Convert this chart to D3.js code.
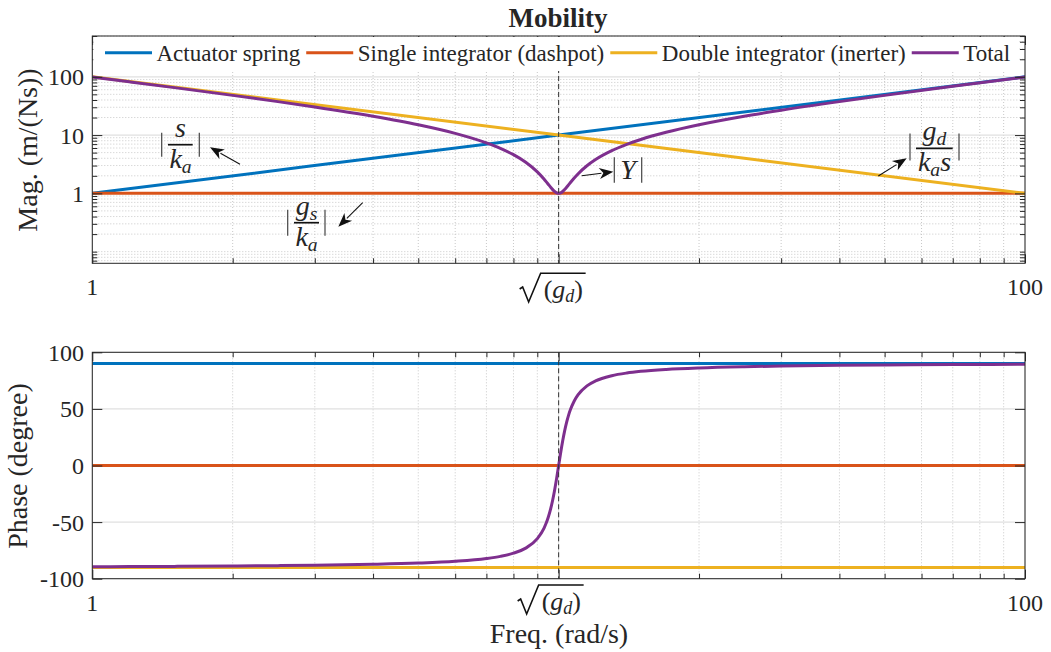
<!DOCTYPE html>
<html>
<head>
<meta charset="utf-8">
<script src="https://cdn.jsdelivr.net/npm/d3@7"></script>
<style>
  html, body { margin: 0; padding: 0; background: #fff; }
  svg { display: block; }
  text { font-family: "Liberation Serif", "Times New Roman", serif; fill: #262626; }
</style>
</head>
<body>
<script>
// ---------------- DATA ----------------
const seriesNames = ["Actuator spring", "Single integrator (dashpot)", "Double integrator (inerter)", "Total"];
const seriesColors = ["#0072BD", "#D95319", "#EDB120", "#7E2F8E"];

// straight-line components (read at 1, sqrt(gd)=10, 100 rad/s)
const lineFreq     = [1, 10, 100];
const springMag    = [1, 10, 100];
const dashpotMag   = [1, 1, 1];
const inerterMag   = [100, 10, 1];
const springPhase  = [90, 90, 90];
const dashpotPhase = [0, 0, 0];
const inerterPhase = [-90, -90, -90];

// total mobility
const totalFreq  = [1, 1.2, 1.5, 2, 2.5, 3, 4, 5, 6, 7, 7.5, 8, 8.5, 9, 9.3, 9.4, 9.5, 9.6, 9.7, 9.8, 9.9, 10,
                    10.1, 10.2, 10.3, 10.4, 10.5, 10.6, 10.8, 11, 11.5, 12, 13, 14, 15, 17, 20, 25, 30, 40, 50, 70, 100];
const totalMag   = [99.0, 82.14, 65.17, 48.01, 37.51, 30.35, 21.02, 15.03, 10.71, 7.354, 5.918, 4.61, 3.415, 2.336, 1.764, 1.592, 1.433, 1.291, 1.171, 1.079, 1.020, 1.0,
                    1.020, 1.076, 1.162, 1.271, 1.397, 1.536, 1.837, 2.155, 2.977, 3.801, 5.401, 6.930, 8.393, 11.16, 15.03, 21.02, 26.69, 37.51, 48.01, 68.58, 99.0];
const totalPhase = [-89.42, -89.30, -89.12, -88.81, -88.47, -88.11, -87.27, -86.19, -84.64, -82.19, -80.27, -77.47, -72.97, -64.62, -55.46, -51.07, -45.74, -39.25, -31.34, -22.0, -11.37, 0,
                    11.26, 21.6, 30.58, 38.13, 44.31, 49.39, 57.02, 62.35, 70.37, 74.74, 79.33, 81.70, 83.16, 84.86, 86.19, 87.27, 87.85, 88.47, 88.81, 89.16, 89.42];

// ticks
const freqTicks   = [1, 10, 100];
const freqLabels  = ["1", "sqrt", "100"];
const magTicks    = [1, 10, 100];
const magLabels   = ["1", "10", "100"];
const phaseTicks  = [-100, -50, 0, 50, 100];
const phaseLabels = ["-100", "-50", "0", "50", "100"];

// ---------------- LAYOUT ----------------
const W = 1051, H = 652;
const L = 92.3, R = 1025;
const T1 = 36, B1 = 263.3, T2 = 352.3, B2 = 578.7;
const axisColor = "#262626";

const svg = d3.select("body").append("svg").attr("width", W).attr("height", H);

const x = d3.scaleLog().domain([1, 100]).range([L, R]);
const yMag = d3.scaleLog().domain([Math.pow(10, -1.2), Math.pow(10, 2.7)]).range([B1, T1]);
const yPh = d3.scaleLinear().domain([-100, 100]).range([B2, T2]);

// minor tick positions
const xMinor = [];
[1, 10].forEach(d => { for (let k = 2; k <= 9; k++) xMinor.push(d * k); });
const yMagMinor = [];
[0.01, 0.1, 1, 10, 100].forEach(d => { for (let k = 1; k <= 9; k++) { const v = d * k; if (v >= yMag.domain()[0] && v <= yMag.domain()[1] && Math.abs(v - 1) > 1e-9 && Math.abs(v - 10) > 1e-9 && Math.abs(v - 100) > 1e-9) yMagMinor.push(v); } });

const defs = svg.append("defs");
defs.append("clipPath").attr("id", "c1").append("rect").attr("x", L).attr("y", T1).attr("width", R - L).attr("height", B1 - T1);
defs.append("clipPath").attr("id", "c2").append("rect").attr("x", L).attr("y", T2).attr("width", R - L).attr("height", B2 - T2);

function panel(yScale, top, bottom, yMajor, yMinorVals) {
  const g = svg.append("g");
  const grid = g.append("g");
  grid.selectAll(".vx").data(xMinor).join("line")
    .attr("x1", d => x(d)).attr("x2", d => x(d)).attr("y1", top).attr("y2", bottom)
    .attr("stroke", "#c8c8c8").attr("stroke-width", 1).attr("stroke-dasharray", "1,2");
  grid.selectAll(".hy").data(yMinorVals).join("line")
    .attr("x1", L).attr("x2", R).attr("y1", d => yScale(d)).attr("y2", d => yScale(d))
    .attr("stroke", "#c8c8c8").attr("stroke-width", 1).attr("stroke-dasharray", "1,2");
  grid.selectAll(".mx").data(freqTicks).join("line")
    .attr("x1", d => x(d)).attr("x2", d => x(d)).attr("y1", top).attr("y2", bottom)
    .attr("stroke", "#e0e0e0").attr("stroke-width", 1);
  grid.selectAll(".my").data(yMajor).join("line")
    .attr("x1", L).attr("x2", R).attr("y1", d => yScale(d)).attr("y2", d => yScale(d))
    .attr("stroke", "#e0e0e0").attr("stroke-width", 1.3);
  return g;
}

const g1 = panel(yMag, T1, B1, magTicks, yMagMinor);
const g2 = panel(yPh, T2, B2, phaseTicks, []);

function ticks(g, yScale, top, bottom, yMajor, yMinorVals) {
  const mk = (axis, tr) => {
    const a = g.append("g").attr("transform", tr).call(axis);
    a.select(".domain").remove();
    a.selectAll("line").attr("stroke", axisColor).attr("stroke-width", 1);
    a.selectAll("text").remove();
  };
  mk(d3.axisBottom(x).tickValues(xMinor).tickSize(-5).tickFormat(""), `translate(0,${bottom})`);
  mk(d3.axisTop(x).tickValues(xMinor).tickSize(-5).tickFormat(""), `translate(0,${top})`);
  mk(d3.axisBottom(x).tickValues(freqTicks).tickSize(-9).tickFormat(""), `translate(0,${bottom})`);
  mk(d3.axisTop(x).tickValues(freqTicks).tickSize(-9).tickFormat(""), `translate(0,${top})`);
  mk(d3.axisLeft(yScale).tickValues(yMajor).tickSize(-10).tickFormat(""), `translate(${L},0)`);
  mk(d3.axisRight(yScale).tickValues(yMajor).tickSize(-10).tickFormat(""), `translate(${R},0)`);
  if (yMinorVals.length) {
    mk(d3.axisLeft(yScale).tickValues(yMinorVals).tickSize(-5).tickFormat(""), `translate(${L},0)`);
    mk(d3.axisRight(yScale).tickValues(yMinorVals).tickSize(-5).tickFormat(""), `translate(${R},0)`);
  }
}

function drawLines(g, yScale, clipId, sets) {
  const layer = g.append("g").attr("clip-path", `url(#${clipId})`);
  sets.forEach((s, i) => {
    const pts = s.f.map((f, j) => [f, s.v[j]]);
    layer.append("path").datum(pts)
      .attr("d", d3.line().x(d => x(d[0])).y(d => yScale(d[1])).curve(d3.curveMonotoneX))
      .attr("fill", "none").attr("stroke", seriesColors[i]).attr("stroke-width", 3)
      .attr("stroke-linejoin", "round");
  });
  return layer;
}

drawLines(g1, yMag, "c1", [
  { f: lineFreq, v: springMag }, { f: lineFreq, v: dashpotMag },
  { f: lineFreq, v: inerterMag }, { f: totalFreq, v: totalMag }]);
drawLines(g2, yPh, "c2", [
  { f: lineFreq, v: springPhase }, { f: lineFreq, v: dashpotPhase },
  { f: lineFreq, v: inerterPhase }, { f: totalFreq, v: totalPhase }]);

[[T1, B1], [T2, B2]].forEach(([t, b]) => {
  svg.append("line").attr("x1", x(10)).attr("x2", x(10)).attr("y1", t).attr("y2", b)
    .attr("stroke", "#333").attr("stroke-width", 1).attr("stroke-dasharray", "5,3");
});

// Legend
const leg = svg.append("g");
leg.append("rect").attr("x", L + 1).attr("y", T1 + 1).attr("width", 925).attr("height", 34).attr("fill", "#fff");
let lx = 105;
seriesNames.forEach((n, i) => {
  leg.append("line").attr("x1", lx).attr("x2", lx + 47).attr("y1", 52.7).attr("y2", 52.7)
    .attr("stroke", seriesColors[i]).attr("stroke-width", 3);
  const t = leg.append("text").attr("x", lx + 51.5).attr("y", 60.5).attr("font-size", 23).attr("fill", "#111").text(n);
  lx = lx + 51.5 + t.node().getComputedTextLength() + 6;
});

ticks(g1, yMag, T1, B1, magTicks, yMagMinor);
ticks(g2, yPh, T2, B2, phaseTicks, []);

[[T1, B1], [T2, B2]].forEach(([t, b]) => {
  svg.append("rect").attr("x", L).attr("y", t).attr("width", R - L).attr("height", b - t)
    .attr("fill", "none").attr("stroke", axisColor).attr("stroke-width", 1);
});

magTicks.forEach((v, i) => {
  svg.append("text").attr("x", 84).attr("y", yMag(v) + 8.5).attr("text-anchor", "end")
    .attr("font-size", 24).text(magLabels[i]);
});
phaseTicks.forEach((v, i) => {
  svg.append("text").attr("x", 84).attr("y", yPh(v) + 8.5).attr("text-anchor", "end")
    .attr("font-size", 24).text(phaseLabels[i]);
});

function sqrtLabel(cx, ob, bl) {
  const g = svg.append("g");
  g.append("path")
    .attr("d", `M${cx - 39},${bl - 9} L${cx - 36},${bl - 11} L${cx - 30},${bl + 4} L${cx - 18},${ob} L${cx + 27},${ob}`)
    .attr("fill", "none").attr("stroke", "#111").attr("stroke-width", 1.6).attr("stroke-linejoin", "miter");
  const t = g.append("text").attr("x", cx - 15).attr("y", bl).attr("font-size", 26).attr("fill", "#111");
  t.append("tspan").text("(");
  t.append("tspan").attr("font-style", "italic").text("g");
  t.append("tspan").attr("font-style", "italic").attr("font-size", 18).attr("dy", 4).text("d");
  t.append("tspan").attr("dy", -4).text(")");
}
[[B1, 295], [B2, 611]].forEach(([b, bl], k) => {
  freqTicks.forEach((v, i) => {
    if (freqLabels[i] === "sqrt") {
      if (k === 0) sqrtLabel(x(v), 273.3, 298); else sqrtLabel(x(v) - 2, 585, 610);
    } else {
      svg.append("text").attr("x", x(v)).attr("y", bl).attr("text-anchor", "middle")
        .attr("font-size", 24).text(freqLabels[i]);
    }
  });
});

svg.append("text").attr("x", 558).attr("y", 27).attr("text-anchor", "middle")
  .attr("font-size", 27).attr("font-weight", "bold").attr("fill", "#000").text("Mobility");
svg.append("text").attr("transform", "translate(37,150) rotate(-90)").attr("text-anchor", "middle")
  .attr("font-size", 28).text("Mag. (m/(Ns))");
svg.append("text").attr("transform", "translate(27,466) rotate(-90)").attr("text-anchor", "middle")
  .attr("font-size", 28).text("Phase (degree)");
svg.append("text").attr("x", 559).attr("y", 643).attr("text-anchor", "middle")
  .attr("font-size", 28).text("Freq. (rad/s)");

// annotations
const ink = "#111";
function bars(xl, xr, cy, h) {
  [xl, xr].forEach(xx => svg.append("line").attr("x1", xx).attr("x2", xx)
    .attr("y1", cy - h).attr("y2", cy + h).attr("stroke", "#444").attr("stroke-width", 1.2));
}
function mathText(xc, y, parts, size) {
  const t = svg.append("text").attr("x", xc).attr("y", y).attr("text-anchor", "middle")
    .attr("font-size", size).attr("font-style", "italic").attr("fill", ink);
  parts.forEach(p => {
    const s = t.append("tspan").text(p.t);
    if (p.sub) s.attr("font-size", size * 0.7).attr("dy", 5);
    if (p.up) s.attr("dy", -5);
  });
}
function frac(xc, fy, x0, x1, num, den) {
  svg.append("line").attr("x1", x0).attr("x2", x1).attr("y1", fy).attr("y2", fy)
    .attr("stroke", ink).attr("stroke-width", 1.7);
  mathText(xc, fy - 8, num, 28);
  mathText(xc, fy + 23, den, 28);
}
function arrow(x0, y0, x1, y1) {
  const a = Math.atan2(y1 - y0, x1 - x0), len = 14, w = 5.5;
  const bx = x1 - len * Math.cos(a), by = y1 - len * Math.sin(a);
  svg.append("line").attr("x1", x0).attr("y1", y0).attr("x2", bx + 2 * Math.cos(a)).attr("y2", by + 2 * Math.sin(a))
    .attr("stroke", ink).attr("stroke-width", 1.1);
  const nx = -Math.sin(a), ny = Math.cos(a);
  svg.append("path")
    .attr("d", `M${x1},${y1} L${bx + nx * w},${by + ny * w} L${bx + 4 * Math.cos(a)},${by + 4 * Math.sin(a)} L${bx - nx * w},${by - ny * w} Z`)
    .attr("fill", ink);
}

// |s/ka|
bars(161.7, 199.3, 144.7, 12);
frac(180.5, 144.7, 168, 192.7, [{ t: "s" }], [{ t: "k" }, { t: "a", sub: true }]);
arrow(240, 164.3, 210, 147.3);

// |gs/ka|
bars(287.7, 325, 222.7, 13);
frac(306.5, 222.7, 294, 319, [{ t: "g" }, { t: "s", sub: true }], [{ t: "k" }, { t: "a", sub: true }]);
arrow(362.7, 202.7, 338.3, 226.7);

// |Y|
bars(614.3, 641.7, 170, 12.7);
mathText(628, 178.5, [{ t: "Y" }], 28);
arrow(581.7, 175.7, 613.3, 171.7);

// |gd/(ka s)|
bars(910, 959, 147, 13.5);
frac(934.5, 148.3, 916, 952.7, [{ t: "g" }, { t: "d", sub: true }], [{ t: "k" }, { t: "a", sub: true }, { t: "s", up: true }]);
arrow(878.3, 176, 906.7, 158.3);
</script>
</body>
</html>
